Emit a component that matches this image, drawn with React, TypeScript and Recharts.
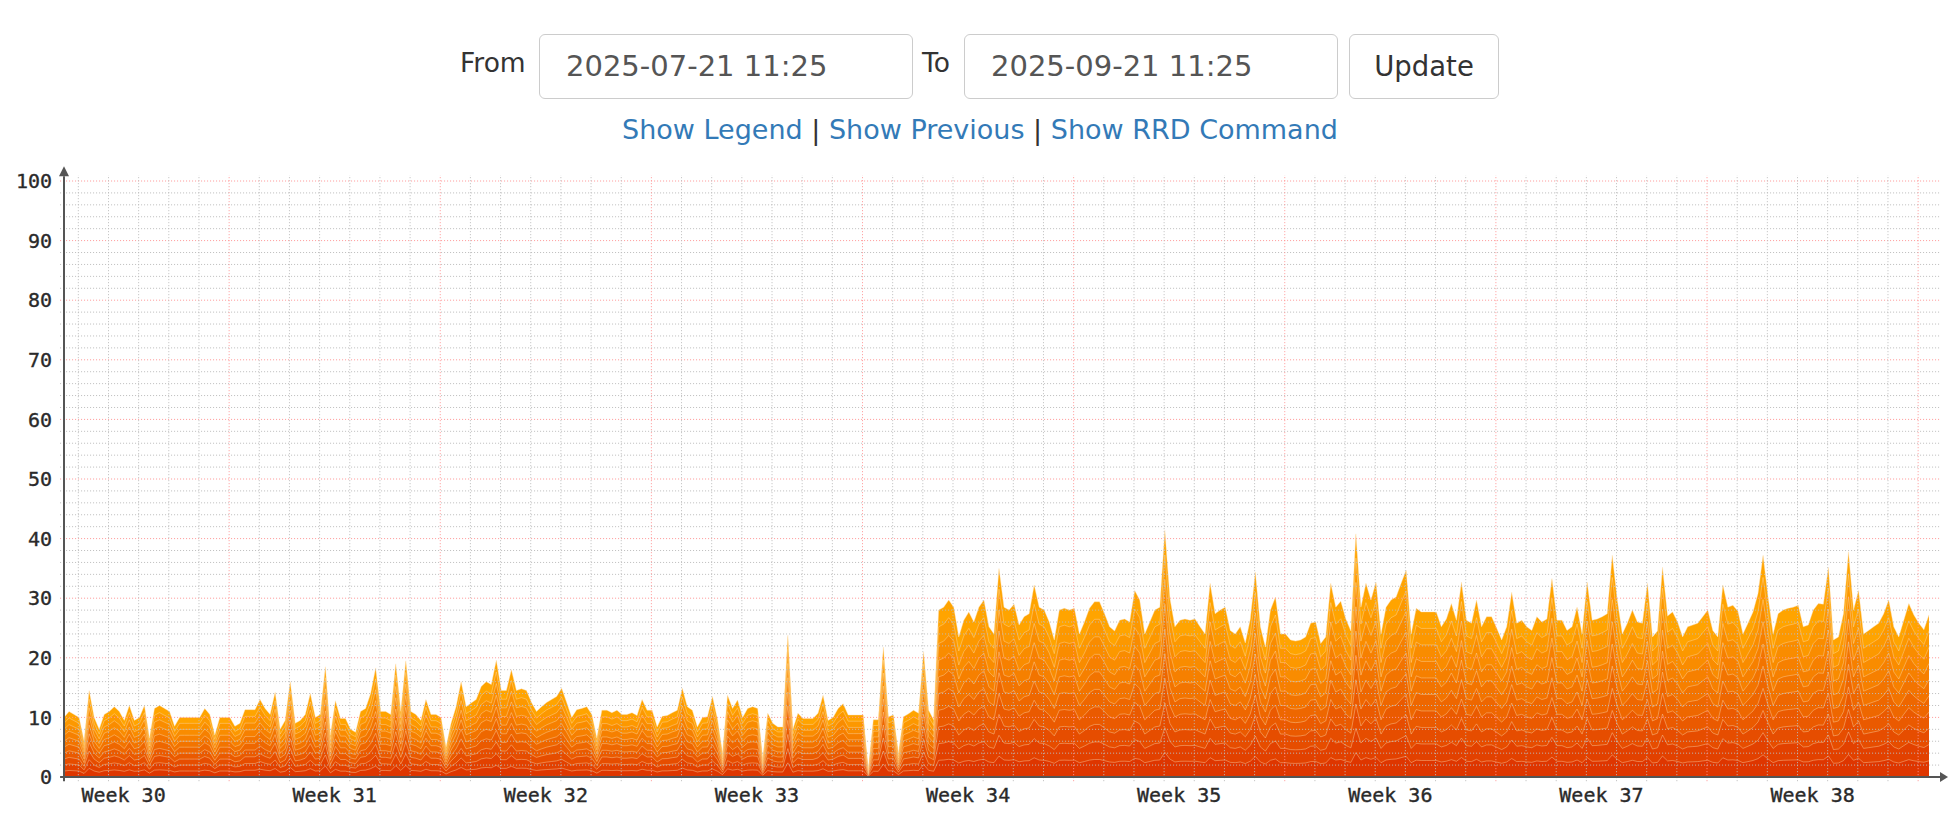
import React from "react";
import { ComposedChart, Area, XAxis, YAxis, ReferenceLine, ReferenceDot } from "recharts";

// CPU usage (%), one sample every 4 hours, 2025-07-21 11:25 -> 2025-09-21 11:25
const fromJul21 = [
  10, 11, 10.5, 10, 6, 14.5, 10, 8, 10.5, 11, 11.8, 11, 9.5, 12, 9.5, 10, 12, 6.5, 11.5, 12, 11.5,
  11, 8.5, 10, 10, 10, 10, 10, 11.5, 10.5, 7, 10, 10, 10, 8.5, 9, 11.3, 11.3, 11.3, 13, 11.5, 10.5,
];
const fromJul28 = [
  14.2, 8, 9.5, 16, 9, 9.5, 10.5, 14, 10, 10.5, 18.5, 7, 12.8, 9.8, 9.8, 8, 7.5, 11, 11.5, 14, 18.3,
  11, 11, 10.5, 19, 11, 19.5, 11, 10.5, 9.5, 13, 10.5, 10.5, 10, 5, 9, 11.8, 16, 11.8, 12.4, 13, 15.2,
];
const fromAug04 = [
  16, 15.5, 19.6, 14.5, 14.5, 18, 14.5, 14.8, 14.5, 12.5, 11, 11.8, 12.5, 13, 13.5, 14.9, 12.5, 10, 11.3, 11.5, 11.8,
  10.5, 6.5, 11.2, 11.2, 10.8, 11.2, 10.5, 10.5, 10.8, 10.3, 13, 11.2, 11.2, 8.4, 10.2, 10.3, 10.8, 11.2, 14.9, 11.8, 11.2,
];
const fromAug11 = [
  8.4, 10, 10.1, 13.5, 9.7, 4, 13.7, 11.5, 12.9, 10, 11.5, 11.8, 11.5, 3, 10.7, 9, 8.4, 8.4, 23.8, 8, 10.7,
  9.8, 9.8, 9.8, 10.7, 13.7, 9.5, 10, 11.5, 12.3, 10.4, 10.4, 10.4, 10.4, 1.2, 9.6, 9.6, 21.8, 10.1, 10.4, 4, 10.1,
];
const fromAug18 = [
  10.6, 11.2, 10.7, 21, 11.2, 9.6, 28, 28.5, 29.7, 28.5, 23.5, 26.3, 27.7, 26, 28.5, 29.7, 25.2, 24, 35, 28.5, 28,
  29, 25.5, 26.9, 27.4, 32.2, 28.5, 28, 26, 23, 28, 28.3, 28, 28.3, 24, 26, 28.3, 29.4, 29.4, 27.4, 25.2, 24.5,
];
const fromAug25 = [
  26.3, 26.5, 26, 31.3, 29.7, 24, 26, 28, 28.5, 41.4, 30, 25.2, 26.3, 26.5, 26.3, 26.5, 25.2, 24, 32.5, 27.4, 28,
  28.5, 24.6, 24, 25.2, 22.5, 26.5, 34.4, 25.2, 21.8, 28, 30.2, 24, 24, 23, 22.8, 23, 23.5, 25.8, 26, 22.4, 23.5,
];
const fromSep01 = [
  32.5, 28.5, 29.5, 26.5, 24.5, 40.8, 28.5, 32.5, 29.7, 32.7, 24, 28.5, 29.7, 30.2, 32.5, 34.7, 24, 28.3, 27.7, 27.7, 27.7,
  27.7, 25.2, 26.5, 29.1, 26.3, 32.7, 26.3, 25.8, 29.7, 25.2, 26.9, 26.9, 25, 23, 25.2, 31, 25.8, 26.3, 25.2, 24.6, 26.9,
];
const fromSep08 = [
  26, 26.5, 33.3, 26.3, 26.3, 24.6, 25.2, 28.5, 24, 32.7, 26.3, 26.5, 26.9, 27.4, 37.2, 29.7, 24, 25.8, 28, 26, 25.8,
  32.5, 23.5, 24.5, 35.2, 27, 27.7, 26, 23.5, 25.2, 25.5, 25.8, 26.9, 28, 24.6, 23.5, 32.2, 28.5, 28.8, 27.8, 24, 25.8,
];
const fromSep15 = [
  27.7, 30.8, 37.2, 30.2, 24, 27.4, 28, 28.3, 28.5, 28.8, 25.2, 25.5, 28, 29.1, 29, 35.2, 23, 23.5,
  27.4, 37.8, 28, 31.3, 24, 24.6, 25.2, 25.8, 27.4, 29.7, 25.2, 23.5, 26.3, 29.1, 27.2, 25.8, 24.7, 27.2,
];

const weekTicks = [1.975, 8.975, 15.975, 22.975, 29.975, 36.975, 43.975, 50.975, 57.975];
const weekLabels = ["Week 30", "Week 31", "Week 32", "Week 33", "Week 34", "Week 35", "Week 36", "Week 37", "Week 38"];
const yTicks = [0, 10, 20, 30, 40, 50, 60, 70, 80, 90, 100];

// gradient bands, top band first
const bandColors = [
  "#ffa400", "#fc9800", "#f98c00", "#f68000", "#f27400",
  "#ee6700", "#ea5a00", "#e64d00", "#e24100", "#de3600",
];

const samples = [
  ...fromJul21, ...fromJul28, ...fromAug04, ...fromAug11, ...fromAug18,
  ...fromAug25, ...fromSep01, ...fromSep08, ...fromSep15,
];
const rows = samples.map((v, i) => ({ t: i / 6, v }));

const X_END = 62.2;
const dayLines = Array.from({ length: 62 }, (_, k) => 0.475 + k);
const isWeekLine = (t: number) => Math.abs(((t - 5.475) % 7 + 7) % 7) < 0.01;
const minorY = Array.from({ length: 50 }, (_, k) => (k + 1) * 2);

const mono = "'DejaVu Sans Mono', monospace";
const sans = "'DejaVu Sans', Verdana, sans-serif";

function UpArrow(props: any) {
  const { cx, cy } = props;
  return <path d={`M${cx - 5},${cy} L${cx + 5},${cy} L${cx},${cy - 10} Z`} fill="#555" />;
}

function RightArrow(props: any) {
  const { cx, cy } = props;
  return <path d={`M${cx},${cy - 5} L${cx},${cy + 5} L${cx + 8},${cy} Z`} fill="#555" />;
}

const box: React.CSSProperties = {
  position: "absolute",
  top: 34,
  height: 65,
  boxSizing: "border-box",
  border: "1px solid #ccc",
  borderRadius: 6,
  background: "#fff",
  fontFamily: sans,
  lineHeight: "63px",
};

const tickStyle = { fill: "#2a2a2a", stroke: "#2a2a2a", strokeWidth: 0.35, fontSize: 20, fontFamily: mono };

export default function App() {
  return (
    <div style={{ position: "absolute", left: 0, top: 0, width: 1960, height: 818, background: "#fff" }}>
      <ComposedChart width={1960} height={818} data={rows} margin={{ top: 181, right: 20, bottom: 1, left: 0 }}>
        <XAxis
          dataKey="t"
          type="number"
          domain={[0, X_END]}
          allowDataOverflow
          ticks={weekTicks}
          interval={0}
          tickFormatter={(_v: number, i: number) => weekLabels[i]}
          axisLine={false}
          tickLine={false}
          tickSize={6}
          tickMargin={5}
          height={40}
          tick={tickStyle}
        />
        <YAxis
          type="number"
          domain={[0, 100]}
          ticks={yTicks}
          interval={0}
          axisLine={false}
          tickLine={false}
          tickSize={6}
          tickMargin={6}
          width={64}
          tick={tickStyle}
        />
        {bandColors.map((c, idx) => {
          const k = bandColors.length - idx;
          return (
            <Area
              key={k}
              type="linear"
              dataKey={(d: { v: number }) => (d.v * k) / bandColors.length}
              fill={c}
              fillOpacity={1}
              stroke="#ffe2b5"
              strokeOpacity={0.4}
              strokeWidth={1}
              dot={false}
              activeDot={false}
              isAnimationActive={false}
            />
          );
        })}
        {minorY.map((y) => (
          <ReferenceLine
            key={"h" + y}
            segment={[{ x: -0.13, y }, { x: X_END, y }]}
            stroke={y % 10 === 0 ? "#ff9696" : "#bcbcbc"}
            strokeOpacity={1}
            strokeDasharray="1 2"
            ifOverflow="visible"
          />
        ))}
        {dayLines.map((t) => (
          <ReferenceLine
            key={"v" + t}
            segment={[{ x: t, y: -0.7 }, { x: t, y: 101 }]}
            stroke={isWeekLine(t) ? "#ff9696" : "#bcbcbc"}
            strokeOpacity={1}
            strokeDasharray="1 2"
            ifOverflow="visible"
          />
        ))}
        <ReferenceLine segment={[{ x: 0, y: -0.7 }, { x: 0, y: 100.8 }]} stroke="#555" strokeWidth={2} ifOverflow="visible" />
        <ReferenceLine segment={[{ x: -0.13, y: 0 }, { x: X_END, y: 0 }]} stroke="#555" strokeWidth={2} ifOverflow="visible" />
        <ReferenceDot x={0} y={100.8} ifOverflow="visible" shape={UpArrow} />
        <ReferenceDot x={X_END} y={0} ifOverflow="visible" shape={RightArrow} />
      </ComposedChart>

      <div style={{ position: "absolute", left: 460, top: 30, lineHeight: "65px", fontSize: 26.5, fontFamily: sans, color: "#333" }}>From</div>
      <div style={{ ...box, left: 539, width: 374, paddingLeft: 26, fontSize: 29, color: "#555" }}>2025-07-21 11:25</div>
      <div style={{ position: "absolute", left: 922, top: 30, lineHeight: "65px", fontSize: 26.5, fontFamily: sans, color: "#333" }}>To</div>
      <div style={{ ...box, left: 964, width: 374, paddingLeft: 26, fontSize: 29, color: "#555" }}>2025-09-21 11:25</div>
      <div style={{ ...box, left: 1349, width: 150, textAlign: "center", fontSize: 27.5, color: "#333" }}>Update</div>

      <div style={{ position: "absolute", left: 0, top: 110, width: 1960, textAlign: "center", fontSize: 27, fontFamily: sans, color: "#333", lineHeight: "40px" }}>
        <span style={{ color: "#337ab7" }}>Show Legend</span> | <span style={{ color: "#337ab7" }}>Show Previous</span> |{" "}
        <span style={{ color: "#337ab7" }}>Show RRD Command</span>
      </div>
    </div>
  );
}
